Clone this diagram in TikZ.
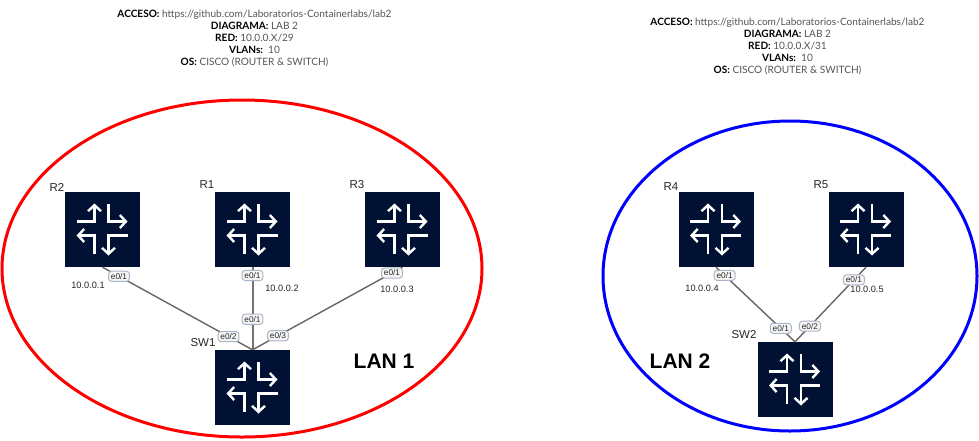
\documentclass[tikz,border=0pt]{standalone}
\usepackage{fontspec}
\setmainfont{Liberation Sans}
\newfontfamily\headfont{Lato}
\usetikzlibrary{arrows.meta,shapes.geometric}
\definecolor{navy}{HTML}{001133}
\definecolor{headgray}{HTML}{555555}
\definecolor{portedge}{HTML}{A9B4C6}
\tikzstyle{router} = [fill=navy, minimum width=75pt, minimum height=75pt, inner sep=0pt]
\tikzstyle{iconline} = [draw=white, line width=2.4pt, -{Straight Barb[length=6pt,width=13pt,line width=2.4pt]}]
\tikzstyle{lan} = [ellipse, line width=3pt, inner sep=0pt]
\tikzstyle{link} = [draw=black!60, line width=1.4pt]
\tikzstyle{port} = [draw=portedge, fill=black!3, rounded corners=3pt, font=\fontsize{8.3}{9}\selectfont, text=black!85, inner xsep=2.4pt, inner ysep=2pt, line width=1pt]
\tikzstyle{addr} = [font=\fontsize{9.2}{10}\selectfont, text=black!85]
\tikzstyle{devname} = [font=\fontsize{11.5}{12}\selectfont, text=black!85]
\tikzstyle{lanname} = [font=\bfseries\fontsize{21}{22}\selectfont]
\tikzstyle{head} = [font=\headfont\fontsize{10.1}{11.9}\selectfont, text=headgray, align=center, inner sep=0pt]
\newcommand{\hb}[1]{\textcolor{black}{\textbf{#1}}}

\begin{document}
\begin{tikzpicture}[x=1pt,y=-1pt]
	  \useasboundingbox (0,0) rectangle (979,440);

	  \node (lan1) at (242,268.5) [lan, draw=red, minimum width=480pt, minimum height=337pt] {};
	  \node (lan2) at (790,276) [lan, draw=blue, minimum width=374pt, minimum height=310pt] {};

	  \node (R2) at (102.5,229.5) [router] {};
	  \node (R1) at (252.5,229.5) [router] {};
	  \node (R3) at (402.5,229.5) [router] {};
	  \node (SW1) at (252.5,387.5) [router] {};
	  \node (R4) at (716,229.5) [router] {};
	  \node (R5) at (866,229.5) [router] {};
	  \node (SW2) at (795,379.5) [router] {};

	  \foreach \n in {R1,R2,R3,R4,R5,SW1,SW2} {
	    \begin{scope}[shift={(\n.center)}]
	      \draw [iconline] (-26,-8) -- (-8,-8) -- (-8,-26);
	      \draw [iconline] (6,-26) -- (6,-8) -- (25,-8);
	      \draw [iconline] (-8,24) -- (-8,6) -- (-26,6);
	      \draw [iconline] (25,6) -- (6,6) -- (6,26);
	    \end{scope}
	  }

	  \draw [link] (R2.south) -- node (p21) [port, pos=.11] {e0/1} node (p22) [port, pos=.84] {e0/2} (SW1.north);
	  \draw [link, draw=black!55, line width=2pt] (R1.south) -- node (p11) [port, pos=.1] {e0/1} node (p12) [port, pos=.63] {e0/1} (SW1.north);
	  \draw [link] (R3.south) -- node (p31) [port, pos=.07] {e0/1} node (p32) [port, pos=.83] {e0/3} (SW1.north);
	  \draw [link] (R4.south) -- node (p41) [port, pos=.11] {e0/1} node (p42) [port, pos=.82] {e0/1} (SW2.north);
	  \draw [link] (R5.south) -- node (p51) [port, pos=.17] {e0/1} node (p52) [port, pos=.79] {e0/2} (SW2.north);

	  \node (nR2) at (57,187) [devname] {R2};
	  \node (nR1) at (207,185) [devname] {R1};
	  \node (nR3) at (357,185) [devname] {R3};
	  \node (nSW1) at (203,343) [devname] {SW1};
	  \node (nR4) at (671,187) [devname] {R4};
	  \node (nR5) at (821,185) [devname] {R5};
	  \node (nSW2) at (744,335) [devname] {SW2};

	  \node (a1) at (88,285) [addr] {10.0.0.1};
	  \node (a2) at (282,288) [addr] {10.0.0.2};
	  \node (a3) at (397,289) [addr] {10.0.0.3};
	  \node (a4) at (702,288) [addr] {10.0.0.4};
	  \node (a5) at (867,289) [addr] {10.0.0.5};

	  \node (t1) at (384,361) [lanname] {LAN 1};
	  \node (t2) at (680,361) [lanname] {LAN 2};

	  \node (h1) at (254.5,38.3) [head] {\hb{ACCESO:} https://github.com/Laboratorios-Containerlabs/lab2\\ \hb{DIAGRAMA:} LAB 2\\ \hb{RED:} 10.0.0.X/29\\ \hb{VLANs:}\ \ 10\\ \hb{OS:} CISCO (ROUTER \& SWITCH)};
	  \node (h2) at (787.5,46.3) [head] {\hb{ACCESO:} https://github.com/Laboratorios-Containerlabs/lab2\\ \hb{DIAGRAMA:} LAB 2\\ \hb{RED:} 10.0.0.X/31\\ \hb{VLANs:}\ \ 10\\ \hb{OS:} CISCO (ROUTER \& SWITCH)};
	\end{tikzpicture}
\end{document}
